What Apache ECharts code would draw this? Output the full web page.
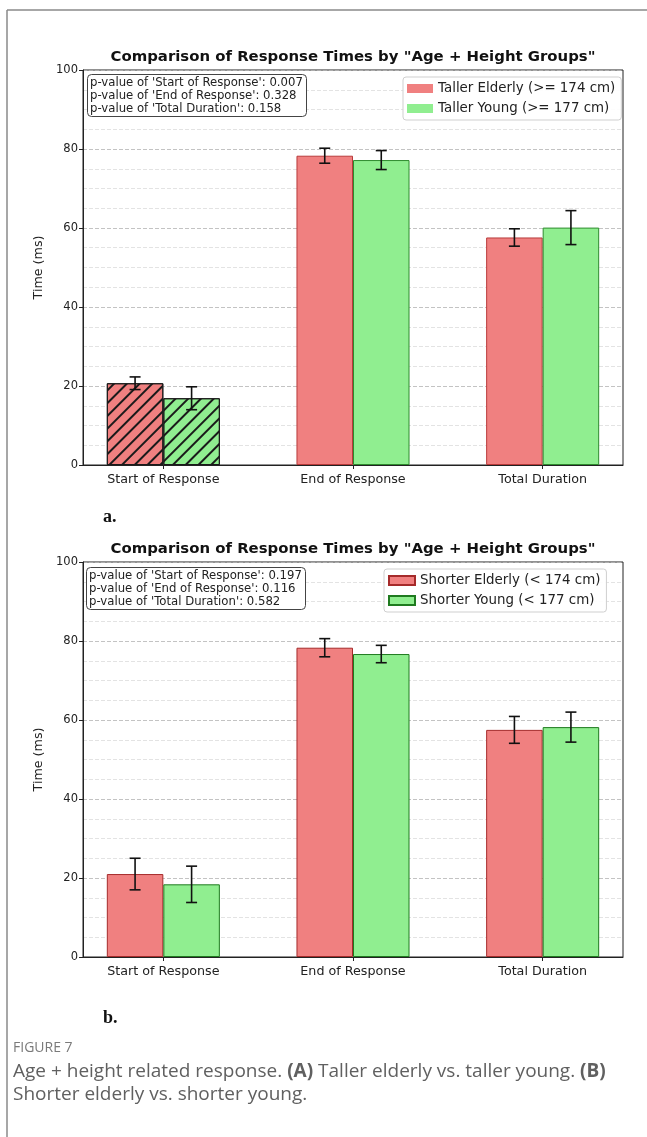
<!DOCTYPE html>
<html>
<head>
<meta charset="utf-8">
<script src="https://cdn.jsdelivr.net/npm/echarts@6/dist/echarts.min.js"></script>
<style>
  html, body { margin: 0; padding: 0; background: #fff; }
  #chart { width: 647px; height: 1137px; }
</style>
</head>
<body>
<div id="chart"></div>
<script>
// Response-time comparison, two panels (taller / shorter groups)
const categories = ['Start of Response', 'End of Response', 'Total Duration'];

// Panel a: taller participants
const tallElderlyName = 'Taller Elderly (>= 174 cm)';
const tallYoungName = 'Taller Young (>= 177 cm)';
const tallElderlyMean = [20.7, 78.3, 57.6];
const tallElderlyErr = [1.6, 1.9, 2.2];
const tallYoungMean = [16.9, 77.2, 60.1];
const tallYoungErr = [2.9, 2.4, 4.3];
const pValuesA = ['0.007', '0.328', '0.158'];

// Panel b: shorter participants
const shortElderlyName = 'Shorter Elderly (< 174 cm)';
const shortYoungName = 'Shorter Young (< 177 cm)';
const shortElderlyMean = [21.0, 78.3, 57.5];
const shortElderlyErr = [4.0, 2.3, 3.4];
const shortYoungMean = [18.4, 76.7, 58.2];
const shortYoungErr = [4.6, 2.2, 3.8];
const pValuesB = ['0.197', '0.116', '0.582'];

const chartTitle = 'Comparison of Response Times by "Age + Height Groups"';
const yName = 'Time (ms)';

const FONT = '"DejaVu Sans", sans-serif';
const RED = '#F08080', RED_EDGE = '#b83a3a';
const GREEN = '#90EE90', GREEN_EDGE = '#2e8b2e';

// "//" hatch for the first group of panel a
const hatch = {
  symbol: 'rect', symbolSize: 1, color: '#1a1a1a',
  dashArrayX: [1, 0], dashArrayY: [1.1, 6.9], rotation: -Math.PI / 4
};

function pText(vals) {
  return categories.map((c, i) => "p-value of '" + c + "': " + vals[i]).join('\n');
}

function barSeries(name, means, fill, edge, xi, hatchFirst) {
  return {
    name, type: 'bar', xAxisIndex: xi, yAxisIndex: xi,
    barWidth: '29.8%', barGap: '0%', z: 2,
    itemStyle: { color: fill, borderColor: edge, borderWidth: 1 },
    data: means.map((v, i) => (hatchFirst && i === 0)
      ? { value: v, itemStyle: { borderColor: '#1a1a1a', decal: hatch } }
      : v)
  };
}

function errorSeries(meansL, errsL, meansR, errsR, xi) {
  const data = [];
  meansL.forEach((m, i) => data.push([i, m, errsL[i], -1]));
  meansR.forEach((m, i) => data.push([i, m, errsR[i], 1]));
  return {
    type: 'custom', xAxisIndex: xi, yAxisIndex: xi, z: 4,
    encode: { x: 0, y: 1 }, data,
    renderItem(params, api) {
      const cat = api.value(0), mean = api.value(1), err = api.value(2), side = api.value(3);
      const band = api.size([1, 0])[0];
      const x = api.coord([cat, mean])[0] + side * band * 0.149;
      const yTop = api.coord([cat, mean + err])[1];
      const yBot = api.coord([cat, mean - err])[1];
      const cap = 5.5;
      const st = { stroke: '#111', lineWidth: 1.6 };
      return {
        type: 'group', children: [
          { type: 'line', shape: { x1: x, y1: yTop, x2: x, y2: yBot }, style: st },
          { type: 'line', shape: { x1: x - cap, y1: yTop, x2: x + cap, y2: yTop }, style: st },
          { type: 'line', shape: { x1: x - cap, y1: yBot, x2: x + cap, y2: yBot }, style: st }
        ]
      };
    }
  };
}

function frameX(gi) {
  return {
    gridIndex: gi, type: 'value', min: 0, max: 1, z: 6,
    axisLine: { show: true, lineStyle: { color: '#222', width: 1 } },
    axisTick: { show: false }, axisLabel: { show: false }, splitLine: { show: false }
  };
}
function catX(gi) {
  return {
    gridIndex: gi, type: 'category', data: categories,
    axisLine: { show: false },
    axisTick: { show: true, alignWithLabel: true, length: 4, lineStyle: { color: '#222' } },
    axisLabel: { fontSize: 12.7, color: '#222', fontFamily: FONT, margin: 8 },
    splitLine: { show: false }
  };
}
function frameY(gi) {
  return {
    gridIndex: gi, type: 'value', min: 0, max: 100, interval: 20,
    name: yName, nameLocation: 'middle', nameGap: 38, nameRotate: 90,
    nameTextStyle: { fontSize: 12.7, color: '#222', fontFamily: FONT },
    axisLine: { show: true, lineStyle: { color: '#222', width: 1 } },
    axisTick: { show: true, length: 4, lineStyle: { color: '#222' } },
    axisLabel: { fontSize: 11.5, color: '#222', fontFamily: FONT, margin: 5 },
    splitLine: { show: true, lineStyle: { color: '#b4b4b4', type: [4, 2], width: 0.8 } },
    minorTick: { show: false, splitNumber: 4 },
    minorSplitLine: { show: true, lineStyle: { color: '#dcdcdc', type: [4, 2], width: 0.8 } }
  };
}
function hiddenY(gi) {
  return { gridIndex: gi, type: 'value', min: 0, max: 100, show: false, splitLine: { show: false } };
}

function legend(names, left, top, iconBorder) {
  const l = {
    data: names, left, top, orient: 'vertical', icon: 'rect',
    padding: [5, 6, 5, 4], itemGap: 7, itemWidth: 26, itemHeight: 9,
    textStyle: { fontSize: 13.4, color: '#222', fontFamily: FONT },
    borderColor: '#cfcfcf', borderWidth: 1, borderRadius: 3,
    backgroundColor: 'rgba(255,255,255,0.9)', selectedMode: false
  };
  if (!iconBorder) l.itemStyle = { borderWidth: 0 };
  return l;
}

function pBox(vals, left, top) {
  return {
    text: pText(vals), left, top, padding: [2, 4, 2, 3],
    borderColor: '#444', borderWidth: 1, borderRadius: 4, backgroundColor: '#fff',
    textStyle: { fontSize: 11.7, fontWeight: 'normal', lineHeight: 13, color: '#222', fontFamily: FONT }
  };
}
function heading(top) {
  return {
    text: chartTitle, left: 353, top, textAlign: 'center', padding: 0,
    textStyle: { fontSize: 14.9, fontWeight: 'bold', color: '#111', fontFamily: FONT }
  };
}

const option = {
  animation: false,
  backgroundColor: '#fff',
  title: [heading(50), pBox(pValuesA, 87, 74), heading(542), pBox(pValuesB, 86, 567)],
  legend: [
    legend([tallElderlyName, tallYoungName], 403, 77, false),
    legend([shortElderlyName, shortYoungName], 384, 569, true)
  ],
  grid: [
    { left: 83, top: 70, width: 540, height: 395, show: true, borderColor: '#222', borderWidth: 1 },
    { left: 68.5, top: 70, width: 569, height: 395 },
    { left: 83, top: 562, width: 540, height: 395, show: true, borderColor: '#222', borderWidth: 1 },
    { left: 68.5, top: 562, width: 569, height: 395 }
  ],
  xAxis: [frameX(0), catX(1), frameX(2), catX(3)],
  yAxis: [frameY(0), hiddenY(1), frameY(2), hiddenY(3)],
  series: [
    barSeries(tallElderlyName, tallElderlyMean, RED, RED_EDGE, 1, true),
    barSeries(tallYoungName, tallYoungMean, GREEN, GREEN_EDGE, 1, true),
    errorSeries(tallElderlyMean, tallElderlyErr, tallYoungMean, tallYoungErr, 1),
    barSeries(shortElderlyName, shortElderlyMean, RED, '#a52a2a', 3, false),
    barSeries(shortYoungName, shortYoungMean, GREEN, '#1f7a1f', 3, false),
    errorSeries(shortElderlyMean, shortElderlyErr, shortYoungMean, shortYoungErr, 3)
  ],
  graphic: [
    { type: 'line', shape: { x1: 7, y1: 10, x2: 647, y2: 10 }, style: { stroke: '#8a8a8a', lineWidth: 1.5 } },
    { type: 'line', shape: { x1: 7, y1: 10, x2: 7, y2: 1137 }, style: { stroke: '#8a8a8a', lineWidth: 1.5 } },
    { type: 'text', style: { text: 'a.', x: 103, y: 517, verticalAlign: 'middle',
      font: 'bold 18px "Liberation Serif", serif', fill: '#111' } },
    { type: 'text', style: { text: 'b.', x: 103, y: 1018, verticalAlign: 'middle',
      font: 'bold 18px "Liberation Serif", serif', fill: '#111' } },
    { type: 'text', style: { text: 'FIGURE 7', x: 13, y: 1048, verticalAlign: 'middle',
      font: '14px "Open Sans", sans-serif', fill: '#7a7a7a' } },
    { type: 'text', style: {
      x: 13, y: 1072, verticalAlign: 'middle',
      text: '{n|Age + height related response. }{b|(A)}{n| Taller elderly vs. taller young. }{b|(B)}',
      rich: {
        n: { font: '19px "Open Sans", sans-serif', fill: '#606060' },
        b: { font: 'bold 19px "Open Sans", sans-serif', fill: '#606060' }
      } } },
    { type: 'text', style: { text: 'Shorter elderly vs. shorter young.', x: 13, y: 1095, verticalAlign: 'middle',
      font: '19px "Open Sans", sans-serif', fill: '#606060' } }
  ]
};

const chart = echarts.init(document.getElementById('chart'), null, { renderer: 'canvas' });
chart.setOption(option);
</script>
</body>
</html>
